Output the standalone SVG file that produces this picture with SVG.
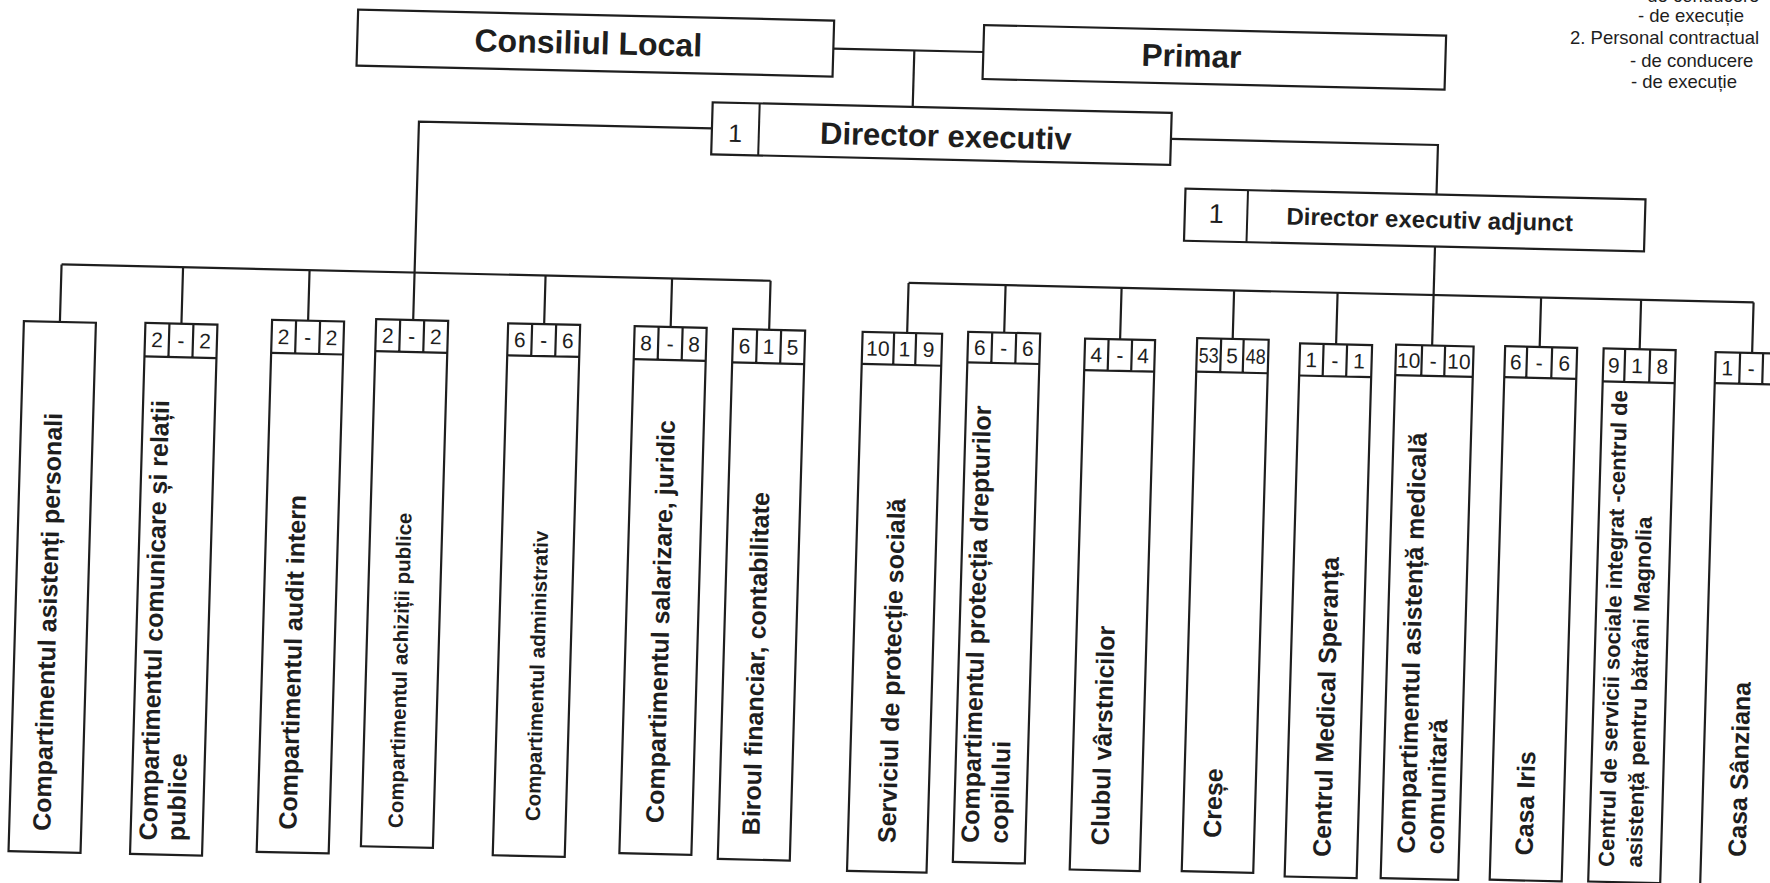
<svg xmlns="http://www.w3.org/2000/svg" width="1770" height="883" viewBox="0 0 1770 883">
<style>
.b{fill:#fff;stroke:#1e1e1e;stroke-width:2.2}
.c{fill:none;stroke:#1e1e1e;stroke-width:2.2}
.l{stroke:#1e1e1e;stroke-width:2}
.t{font-family:"Liberation Sans",Arial,sans-serif;font-weight:bold;fill:#1e1e1e}
.h{font-size:32px;text-anchor:middle}
.lb{font-size:25px}
.sm{font-size:20.5px}
.md{font-size:22px}
.n{font-family:"Liberation Sans",Arial,sans-serif;font-size:21px;fill:#1e1e1e;text-anchor:middle}
.lg{font-family:"Liberation Sans",Arial,sans-serif;font-size:18.5px;fill:#1e1e1e}
</style>
<rect x="0" y="0" width="1770" height="883" fill="#fff"/>
<g id="legend">
<text class="lg" x="1636" y="2">- de conducere</text>
<text class="lg" x="1638" y="21.5">- de execuție</text>
<text class="lg" x="1570" y="43.5">2. Personal contractual</text>
<text class="lg" x="1630" y="66.5">- de conducere</text>
<text class="lg" x="1631" y="88">- de execuție</text>
</g>
<g id="chart" transform="translate(885,441) matrix(1,0.023,-0.029,1,0,0) translate(-885,-441)">
<g id="connectors" class="c">
<path d="M822 50H972"/>
<path d="M903 50V106.5"/>
<path d="M703 132.5H410V331"/>
<path d="M1162 132.5H1429V182"/>
<path d="M1429 234V333"/>
<path d="M57 283.5H766"/>
<path d="M57 283.5V341M178.5 283.5V340M305 283.5V334M541 283.5V332M667.5 283.5V332M766 283.5V332.5"/>
<path d="M904 282.5H1749"/>
<path d="M904 282.5V332.5M1001 282.5V330M1117 282.5V334M1229.5 282.5V331M1333 282.5V334M1536.5 282.5V332M1636.5 282.5V332M1749 282.5V333"/>
</g>
<g id="consiliul">
<rect class="b" x="346" y="22" width="476" height="56"/>
<text class="t h" x="577" y="61">Consiliul Local</text>
</g>
<g id="primar">
<rect class="b" x="972" y="23" width="462" height="54"/>
<text class="t h" x="1180" y="60" style="font-size:31.5px">Primar</text>
</g>
<g id="director">
<rect class="b" x="703" y="106.5" width="459" height="52"/>
<line class="l" x1="750" y1="106.5" x2="750" y2="158.5"/>
<text class="n" x="726.5" y="145.5" style="font-size:25px">1</text>
<text class="t h" x="937" y="145.5" style="font-size:31px">Director executiv</text>
</g>
<g id="director-adjunct">
<rect class="b" x="1178" y="182" width="460" height="52"/>
<line class="l" x1="1240.5" y1="182" x2="1240.5" y2="234"/>
<text class="n" x="1209.5" y="215.5" style="font-size:27px">1</text>
<text class="t h" x="1423" y="215.5" style="font-size:24px">Director executiv adjunct</text>
</g>
<g id="asistenti-personali">
<rect class="b" x="21" y="341" width="72" height="530"/>
<text class="t lb" transform="translate(62,850) rotate(-90)">Compartimentul asistenți personali</text>
</g>
<g id="comunicare">
<rect class="b" x="142.5" y="340" width="72" height="531"/>
<path class="c" d="M142.5 373.5H214.5M166.5 340V373.5M190.5 340V373.5"/>
<text class="n" x="154.5" y="364">2</text><text class="n" x="178.5" y="364">-</text><text class="n" x="202.5" y="364">2</text>
<text class="t lb" transform="translate(168.5,857) rotate(-90)">Compartimentul comunicare și relații</text>
<text class="t lb" transform="translate(196.5,857) rotate(-90)">publice</text>
</g>
<g id="audit">
<rect class="b" x="269" y="334" width="72" height="532"/>
<path class="c" d="M269 367H341M293 334V367M317 334V367"/>
<text class="n" x="281" y="358">2</text><text class="n" x="305" y="358">-</text><text class="n" x="329" y="358">2</text>
<text class="t lb" transform="translate(308,843) rotate(-90)">Compartimentul audit intern</text>
</g>
<g id="achizitii">
<rect class="b" x="373" y="331" width="72" height="527"/>
<path class="c" d="M373 363H445M397 331V363M421 331V363"/>
<text class="n" x="385" y="354.5">2</text><text class="n" x="409" y="354.5">-</text><text class="n" x="433" y="354.5">2</text>
<text class="t sm" transform="translate(414,839) rotate(-90)">Compartimentul achiziții publice</text>
</g>
<g id="administrativ">
<rect class="b" x="505" y="332" width="72" height="532"/>
<path class="c" d="M505 364H577M529 332V364M553 332V364"/>
<text class="n" x="517" y="355.5">6</text><text class="n" x="541" y="355.5">-</text><text class="n" x="565" y="355.5">6</text>
<text class="t sm" transform="translate(551,829) rotate(-90)">Compartimentul administrativ</text>
</g>
<g id="salarizare">
<rect class="b" x="631.5" y="332" width="72" height="527"/>
<path class="c" d="M631.5 365H703.5M655.5 332V365M679.5 332V365"/>
<text class="n" x="643.5" y="356">8</text><text class="n" x="667.5" y="356">-</text><text class="n" x="691.5" y="356">8</text>
<text class="t lb" transform="translate(674.5,828) rotate(-90)">Compartimentul salarizare, juridic</text>
</g>
<g id="birou-financiar">
<rect class="b" x="730" y="332.5" width="72" height="530"/>
<path class="c" d="M730 366H802M754 332.5V366M778 332.5V366"/>
<text class="n" x="742" y="356.75">6</text><text class="n" x="766" y="356.75">1</text><text class="n" x="790" y="356.75">5</text>
<text class="t lb" transform="translate(771,838) rotate(-90)">Biroul financiar, contabilitate</text>
</g>
<g id="protectie-sociala">
<rect class="b" x="859.5" y="332.5" width="79.5" height="539"/>
<path class="c" d="M859.5 364.5H939M891 332.5V364.5M913 332.5V364.5"/>
<text class="n" x="875.25" y="356">10</text><text class="n" x="902" y="356">1</text><text class="n" x="926" y="356">9</text>
<text class="t lb" transform="translate(907,842.7) rotate(-90)">Serviciul de protecție socială</text>
</g>
<g id="drepturile-copilului">
<rect class="b" x="965" y="330" width="72" height="530"/>
<path class="c" d="M965 360.5H1037M989 330V360.5M1013 330V360.5"/>
<text class="n" x="977" y="352.75">6</text><text class="n" x="1001" y="352.75">-</text><text class="n" x="1025" y="352.75">6</text>
<text class="t lb" transform="translate(990,840.7) rotate(-90)">Compartimentul protecția drepturilor</text>
<text class="t lb" transform="translate(1019,840.7) rotate(-90)">copilului</text>
</g>
<g id="clubul-varstnicilor">
<rect class="b" x="1082" y="334" width="70" height="531"/>
<path class="c" d="M1082 365.5H1152M1105.5 334V365.5M1129 334V365.5"/>
<text class="n" x="1093.75" y="357.25">4</text><text class="n" x="1117.25" y="357.25">-</text><text class="n" x="1140.5" y="357.25">4</text>
<text class="t lb" transform="translate(1120,840) rotate(-90)">Clubul vârstnicilor</text>
</g>
<g id="crese">
<rect class="b" x="1194" y="331" width="71.5" height="533"/>
<path class="c" d="M1194 364.5H1265.5M1218 331V364.5M1240.5 331V364.5"/>
<text class="n" x="1206" y="355.25" textLength="20" lengthAdjust="spacingAndGlyphs">53</text><text class="n" x="1229.25" y="355.25">5</text><text class="n" x="1253" y="355.25" textLength="20" lengthAdjust="spacingAndGlyphs">48</text>
<text class="t lb" transform="translate(1232,830) rotate(-90)">Creșe</text>
</g>
<g id="centrul-medical">
<rect class="b" x="1297" y="334" width="72" height="533"/>
<path class="c" d="M1297 366H1369M1320.5 334V366M1344 334V366"/>
<text class="n" x="1308.75" y="357.5">1</text><text class="n" x="1332.25" y="357.5">-</text><text class="n" x="1356.5" y="357.5">1</text>
<text class="t lb" transform="translate(1342,846.6) rotate(-90)">Centrul Medical Speranța</text>
</g>
<g id="asistenta-medicala">
<rect class="b" x="1393" y="333" width="77.5" height="533.5"/>
<path class="c" d="M1393 363.5H1470.5M1419 333V363.5M1442 333V363.5"/>
<text class="n" x="1406" y="355.75">10</text><text class="n" x="1430.5" y="355.75">-</text><text class="n" x="1456.25" y="355.75">10</text>
<text class="t lb" transform="translate(1426,841.3) rotate(-90)">Compartimentul asistență medicală</text>
<text class="t lb" transform="translate(1455,841.3) rotate(-90)">comunitară</text>
</g>
<g id="casa-iris">
<rect class="b" x="1502" y="332" width="72" height="533.5"/>
<path class="c" d="M1502 363H1574M1524 332V363M1549 332V363"/>
<text class="n" x="1513" y="355">6</text><text class="n" x="1536.5" y="355">-</text><text class="n" x="1561.5" y="355">6</text>
<text class="t lb" transform="translate(1544,840.4) rotate(-90)">Casa Iris</text>
</g>
<g id="centrul-magnolia">
<rect class="b" x="1600.5" y="332" width="72" height="533"/>
<path class="c" d="M1600.5 365H1672.5M1622 332V365M1647 332V365"/>
<text class="n" x="1611.25" y="356">9</text><text class="n" x="1634.5" y="356">1</text><text class="n" x="1659.75" y="356">8</text>
<text class="t md" transform="translate(1625.5,849.9) rotate(-90)">Centrul de servicii sociale integrat -centrul de</text>
<text class="t md" transform="translate(1653.5,849.9) rotate(-90)">asistență pentru bătrâni Magnolia</text>
</g>
<g id="casa-sanziana">
<rect class="b" x="1712.5" y="333" width="73.5" height="535"/>
<path class="c" d="M1712.5 364H1786M1737 333V364M1760 333V364"/>
<text class="n" x="1724.75" y="356">1</text><text class="n" x="1748.5" y="356">-</text>
<text class="t lb" transform="translate(1757,837) rotate(-90)">Casa Sânziana</text>
</g>
</g>
</svg>
